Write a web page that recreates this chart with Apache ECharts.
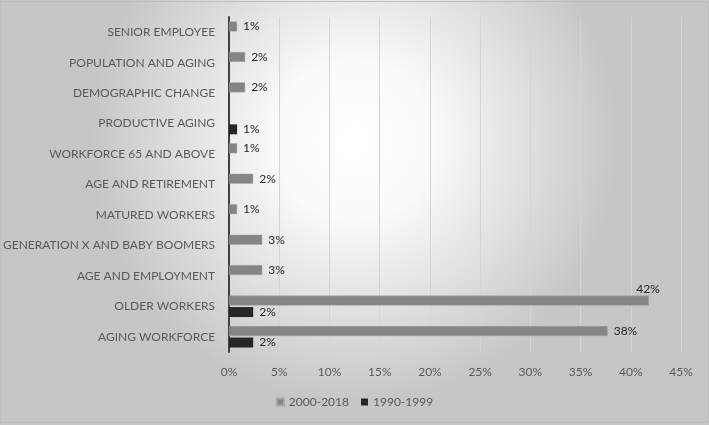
<!DOCTYPE html>
<html>
<head>
<meta charset="utf-8">
<script src="https://cdn.jsdelivr.net/npm/echarts@6/dist/echarts.min.js"></script>
<style>
  html, body { margin: 0; padding: 0; }
  #main { width: 709px; height: 425px; }
</style>
</head>
<body>
<div id="main"></div>
<script>
// categories, top to bottom
var categories = ['SENIOR EMPLOYEE', 'POPULATION AND AGING', 'DEMOGRAPHIC CHANGE', 'PRODUCTIVE AGING',
  'WORKFORCE 65 AND ABOVE', 'AGE AND RETIREMENT', 'MATURED WORKERS', 'GENERATION X AND BABY BOOMERS',
  'AGE AND EMPLOYMENT', 'OLDER WORKERS', 'AGING WORKFORCE'];

// share in %, null = no bar
var recent = [0.8, 1.6, 1.6, null, 0.8, 2.4, 0.8, 3.3, 3.3, 41.8, 37.7];   // 2000-2018
var early = [null, null, null, 0.8, null, null, null, null, null, 2.4, 2.4]; // 1990-1999

var xTicks = [0, 5, 10, 15, 20, 25, 30, 35, 40, 45];

var font = 'Lato';

var myChart = echarts.init(document.getElementById('main'));

function pct(p) { return Math.round(p.value) + '%'; }

var recentData = recent.map(function (v, i) {
  // excel put the 42% label above the bar end
  if (i === 9) return { value: v, label: { position: 'insideTopRight', offset: [17, -18] } };
  return v;
});

var option = {
  backgroundColor: {
    type: 'radial', x: 0.5, y: 0.33, r: 0.62,
    colorStops: [{ offset: 0, color: '#ffffff' }, { offset: 0.3, color: '#fafafa' }, { offset: 1, color: '#c6c6c6' }]
  },
  textStyle: { fontFamily: font },
  graphic: [{
    type: 'rect',
    shape: { x: 0.5, y: 1.5, width: 708, height: 421 },
    style: { fill: 'none', stroke: '#bfbfbf', lineWidth: 1 },
    silent: true
  }],
  grid: { left: 226, right: 28, top: 17, bottom: 73 },
  legend: {
    bottom: 12,
    left: 'center',
    itemWidth: 7,
    itemHeight: 7,
    itemGap: 12,
    icon: 'rect',
    textStyle: { color: '#595959', fontSize: 12, fontFamily: font },
    data: ['2000-2018', '1990-1999']
  },
  xAxis: {
    type: 'value',
    min: xTicks[0],
    max: xTicks[xTicks.length - 1],
    interval: 5,
    axisLine: { show: false },
    axisTick: { show: false },
    axisLabel: { formatter: '{value}%', color: '#595959', fontSize: 12, margin: 14 },
    splitLine: { lineStyle: { color: '#d4d4d4', width: 1 } }
  },
  yAxis: {
    type: 'category',
    inverse: true,
    data: categories,
    axisLine: { lineStyle: { color: '#404040', width: 2 } },
    axisTick: { show: false },
    axisLabel: { color: '#595959', fontSize: 12, margin: 14 }
  },
  series: [
    {
      name: '2000-2018',
      type: 'bar',
      data: recentData,
      barWidth: 10,
      barGap: '15%',
      itemStyle: { color: '#858585', borderColor: '#a6a6a6', borderWidth: 0.5 },
      label: { show: true, position: 'right', distance: 6, color: '#262626', fontSize: 12, formatter: pct }
    },
    {
      name: '1990-1999',
      type: 'bar',
      data: early,
      barWidth: 10,
      itemStyle: { color: '#262626' },
      label: { show: true, position: 'right', distance: 6, color: '#262626', fontSize: 12, formatter: pct }
    }
  ]
};

myChart.setOption(option);

window.addEventListener('resize', function () {
  myChart.resize();
});
</script>
</body>
</html>
